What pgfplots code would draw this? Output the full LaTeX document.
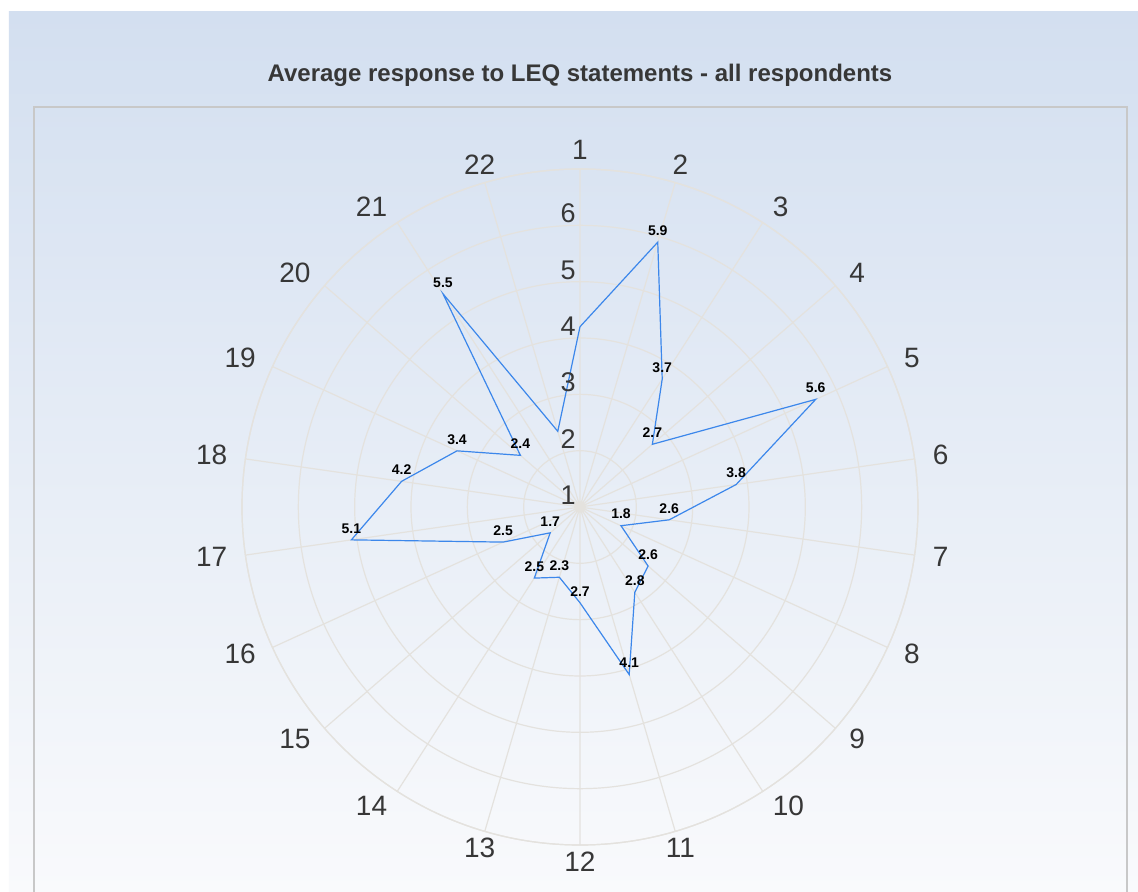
\documentclass[border=0pt]{standalone}
\usepackage{fontspec}
\setmainfont{Liberation Sans}
\usepackage{pgfplots}
\usepackage{pgfplotstable}
\pgfplotsset{compat=1.18}
\usepgfplotslibrary{polar}

\definecolor{bgtop}{RGB}{211,223,240}
\definecolor{bgbot}{RGB}{249,250,252}
\definecolor{gridc}{RGB}{228,226,222}
\definecolor{boxc}{RGB}{200,200,200}
\definecolor{labc}{RGB}{55,55,55}
\definecolor{linec}{RGB}{60,135,235}

% q = statement number, v = average response, lab = data label shown
\pgfplotstableread{
q  v    lab
1  4.2  {}
2  5.9  5.9
3  3.7  3.7
4  2.7  2.7
5  5.6  5.6
6  3.8  3.8
7  2.6  2.6
8  1.8  1.8
9  2.6  2.6
10 2.8  2.8
11 4.1  4.1
12 2.7  2.7
13 2.3  2.3
14 2.5  2.5
15 1.7  1.7
16 2.5  2.5
17 5.1  5.1
18 4.2  4.2
19 3.4  3.4
20 2.4  2.4
21 5.5  5.5
22 2.4  {}
23 4.2  {}
}\leqdata

\begin{document}
\begin{tikzpicture}
\fill[white] (-290pt,253.5pt) rectangle (279pt,-192.5pt);
\useasboundingbox (-290pt,253.5pt) rectangle (279pt,-192.5pt);
\shade[top color=bgtop,bottom color=bgbot] (-285.5pt,247.5pt) rectangle (279pt,-192.5pt);
\draw[boxc,line width=0.6pt] (-273pt,-210pt) -- (-273pt,200pt) -- (273.5pt,200pt) -- (273.5pt,-210pt);
\node[font=\bfseries\fontsize{12}{14}\selectfont,text=labc] at (0pt,216pt)
  {Average response to LEQ statements - all respondents};

\begin{polaraxis}[
  at={(0pt,0pt)}, anchor=center,
  width=338pt, height=338pt, scale only axis,
  xmin=0, xmax=360, ymin=0, ymax=6,
  xtick={8.182,24.545,40.909,57.273,73.636,90,106.364,122.727,139.091,155.455,171.818,
         188.182,204.545,220.909,237.273,253.636,270,286.364,302.727,319.091,335.455,351.818},
  xticklabels={},
  ytick={1,2,3,4,5,6},
  yticklabels={},
  xmajorgrids, ymajorgrids,
  major grid style={draw=gridc,line width=0.6pt},
  separate axis lines,
  x axis line style={draw=gridc,line width=0.6pt},
  y axis line style={draw=none},
  major tick length=0pt,
  clip=false,
]
\addplot[draw=linec,line width=0.6pt,mark=none,
  nodes near coords,
  point meta=explicit symbolic,
  every node near coord/.style={font=\bfseries\fontsize{7}{8}\selectfont,text=black,
    anchor=south,inner sep=0pt,yshift=3pt}]
  table[x expr=90-(\thisrow{q}-1)*360/22, y expr=\thisrow{v}-1, meta=lab] {\leqdata};
% radial scale labels 1..6 along spoke 1
\foreach \k in {1,...,6}{
  \edef\tmp{\noexpand\node[anchor=south east,inner sep=0pt,xshift=-2pt,yshift=1pt,
    font=\noexpand\fontsize{13.5}{15}\noexpand\selectfont,text=labc]
    at (axis cs:90,\the\numexpr\k-1\relax) {\k};}
  \tmp
}
% statement labels round the outside
\foreach \k/\anc in {1/center,2/center,3/west,4/west,5/west,6/west,7/west,8/west,9/west,
  10/west,11/center,12/center,13/center,14/east,15/east,16/east,17/east,18/east,19/east,
  20/east,21/east,22/center}{
  \pgfmathsetmacro\ang{90-(\k-1)*360/22}
  \edef\tmp{\noexpand\node[anchor=\anc,inner sep=0pt,yshift=0.5pt,
    font=\noexpand\fontsize{14}{16}\noexpand\selectfont,text=labc]
    at (axis cs:\ang,6.32) {\k};}
  \tmp
}
\end{polaraxis}
\end{tikzpicture}
\end{document}
